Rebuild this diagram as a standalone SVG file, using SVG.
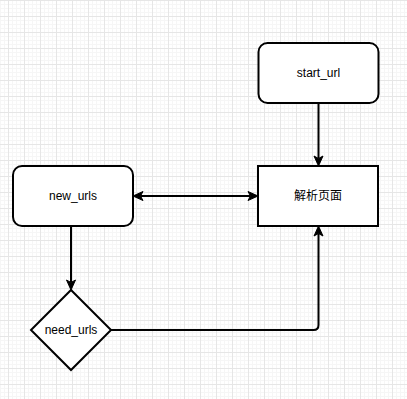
<svg xmlns="http://www.w3.org/2000/svg" width="407" height="399" viewBox="0 0 407 399">
<style>
.node{fill:#ffffff;stroke:#000000;stroke-width:2}
.lbl{font-family:"Liberation Sans","Noto Sans CJK SC",Arial,sans-serif;font-size:12px;fill:#000000;text-anchor:middle;dominant-baseline:central}
.edge{fill:none;stroke:#000000;stroke-width:2}
</style>
<defs>
<pattern id="grid" patternUnits="userSpaceOnUse" x="8" y="0" width="16" height="16">
<rect x="0" y="0" width="16" height="16" fill="#ffffff"/>
<rect x="4" y="0" width="1" height="16" fill="#f6f6f6"/>
<rect x="8" y="0" width="1" height="16" fill="#f6f6f6"/>
<rect x="12" y="0" width="1" height="16" fill="#f6f6f6"/>
<rect x="0" y="4" width="16" height="1" fill="#f6f6f6"/>
<rect x="0" y="8" width="16" height="1" fill="#f6f6f6"/>
<rect x="0" y="12" width="16" height="1" fill="#f6f6f6"/>
<rect x="0" y="0" width="1" height="16" fill="#e6e6e6"/>
<rect x="0" y="0" width="16" height="1" fill="#e6e6e6"/>
</pattern>
<marker id="arr" markerUnits="userSpaceOnUse" viewBox="-11 -6 12 12" refX="-7.5" refY="0" markerWidth="12" markerHeight="12" orient="auto-start-reverse">
<path d="M0,0 L-10,-4.5 L-7.5,0 L-10,4.5 Z" fill="#000000" stroke="#000000" stroke-width="1" stroke-linejoin="miter"/>
</marker>
</defs>
<rect x="0" y="0" width="407" height="399" fill="url(#grid)"/>
<g id="connectors">
<path class="edge" d="M318.5,103 L318.5,158.5" marker-end="url(#arr)"/>
<path class="edge" d="M140.5,196 L250.5,196" marker-start="url(#arr)" marker-end="url(#arr)"/>
<path class="edge" d="M71,226 L71,282.5" marker-end="url(#arr)"/>
<path class="edge" d="M111,330 L313.5,330 Q318.5,330 318.5,325 L318.5,233.5" marker-end="url(#arr)"/>
</g>
<g id="start_url">
<rect class="node" x="258.5" y="43" width="120" height="60" rx="9" ry="9"/>
<text class="lbl" x="318.5" y="73">start_url</text>
</g>
<g id="parse_page">
<rect class="node" x="258" y="166" width="120" height="60"/>
<text class="lbl" x="318" y="196">解析页面</text>
</g>
<g id="new_urls">
<rect class="node" x="13" y="166" width="120" height="60" rx="9" ry="9"/>
<text class="lbl" x="73" y="196">new_urls</text>
</g>
<g id="need_urls">
<polygon class="node" points="71,290 111,330 71,370 31,330"/>
<text class="lbl" x="71" y="330">need_urls</text>
</g>
</svg>
